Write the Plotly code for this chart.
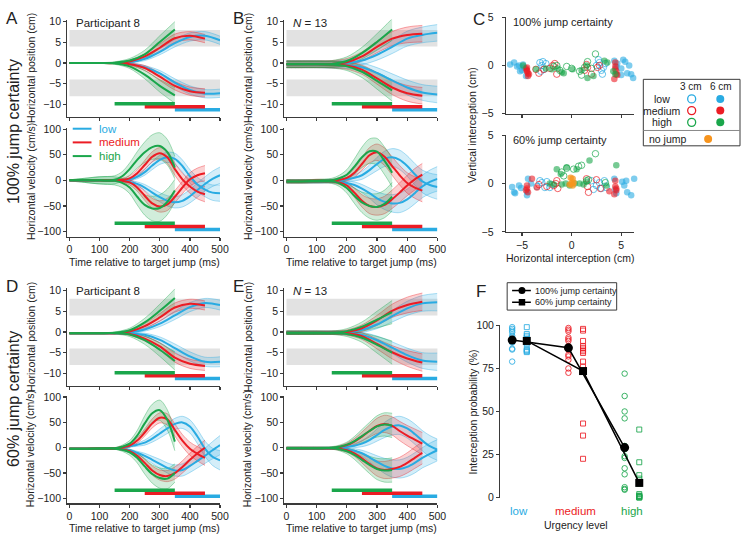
import plotly.graph_objects as go

W, H = 750, 540
FONT = "Liberation Sans, Arial, Helvetica, sans-serif"
BLUE, RED, GREEN, ORANGE = '#29abe2', '#ec1c24', '#1aa64b', '#f7941d'
AXC = '#3a3a3a'

# ---------------- data ----------------
T_POS = [0, 50, 100, 150, 200, 250, 300, 350, 400, 450, 500]
T_VEL = [0, 50, 100, 150, 175, 200, 225, 250, 275, 300, 325, 350, 375, 400, 425, 450, 475, 500]
URGENCY = ['low', 'medium', 'high']
WINDOW_START = [350, 250, 150]
WINDOW_END = [500, 450, 350]
TARGET_ZONE_LO = [4, -8]
TARGET_ZONE_HI = [8, -4]

# Panel A: participant 8, 100% certainty
A_POS_HIGH_UP = [0, 0, 0, 0.1, 0.6, 2.1, 5.1, 8.1]
A_POS_HIGH_DN = [0, 0, 0, -0.1, -0.8, -2.8, -5.5, -7.8]
A_POS_MED_UP = [0, 0, 0, 0, 0.4, 1.6, 3.7, 6.0, 6.6, 5.9]
A_POS_MED_DN = [0, 0, 0, 0, -0.3, -1.2, -3.3, -5.5, -6.8, -7.2]
A_POS_LOW_UP = [0, 0, 0, 0, 0.2, 1.0, 2.7, 4.8, 6.3, 6.6, 5.5]
A_POS_LOW_DN = [0, 0, 0, 0, -0.2, -1.0, -2.5, -4.7, -6.5, -7.4, -7.3]
A_POS_HIGH_SD = [0.1, 0.1, 0.1, 0.2, 0.5, 1.0, 1.5, 1.9]
A_POS_MED_SD = [0.1, 0.1, 0.1, 0.1, 0.3, 0.6, 0.9, 1.0, 1.0, 1.0]
A_POS_LOW_SD = [0.1, 0.1, 0.1, 0.1, 0.2, 0.4, 0.7, 0.9, 1.0, 1.0, 1.0]
A_VEL_HIGH_UP = [0, 0, 0, 1, 8, 22, 40, 55, 65, 67, 55, 25]
A_VEL_HIGH_DN = [0, 0, 0, -1, -5, -14, -32, -48, -55, -54, -42, -20]
A_VEL_MED_UP = [0, 0, 0, 0, 1, 4, 14, 30, 46, 53, 45, 22, 2, -12, -22, -27]
A_VEL_MED_DN = [0, 0, 0, 0, -1, -4, -14, -30, -45, -51, -47, -32, -14, 2, 10, 14]
A_VEL_LOW_UP = [0, 0, 0, 0, 0, 2, 7, 16, 29, 40, 45, 42, 28, 8, -8, -18, -24, -25]
A_VEL_LOW_DN = [0, 0, 0, 0, -1, -3, -7, -14, -24, -33, -40, -43, -40, -31, -19, -7, 3, 10]
A_VEL_HIGH_SD = [1, 4, 7, 8, 9, 12, 16, 20, 24, 26, 25, 22]
A_VEL_MED_SD = [1, 1, 1, 2, 3, 5, 7, 9, 10, 11, 12, 12, 12, 13, 14, 15]
A_VEL_LOW_SD = [1, 1, 1, 1, 2, 3, 4, 6, 8, 9, 10, 11, 12, 13, 14, 14, 15, 16]

# Panel B: N = 13, 100% certainty
B_POS_HIGH_UP = [-0.3, -0.3, -0.3, -0.2, 0.5, 2.4, 5.1, 8.1]
B_POS_HIGH_DN = [-0.3, -0.3, -0.3, -0.4, -0.8, -2.1, -4.3, -6.6]
B_POS_MED_UP = [-0.3, -0.3, -0.3, -0.2, 0.2, 1.6, 3.9, 5.9, 6.8, 7.1]
B_POS_MED_DN = [-0.3, -0.3, -0.3, -0.4, -0.6, -1.6, -3.7, -5.9, -7.3, -7.9]
B_POS_LOW_UP = [-0.3, -0.3, -0.3, -0.3, 0, 0.6, 2.0, 3.9, 5.9, 6.8, 7.3]
B_POS_LOW_DN = [-0.3, -0.3, -0.3, -0.4, -0.5, -1.0, -2.4, -4.2, -5.9, -7.1, -7.6]
B_POS_HIGH_SD = [0.8, 0.8, 0.8, 0.8, 1.0, 1.4, 2.0, 2.6]
B_POS_MED_SD = [0.8, 0.8, 0.8, 0.8, 0.9, 1.1, 1.4, 1.7, 1.9, 2.0]
B_POS_LOW_SD = [0.8, 0.8, 0.8, 0.8, 0.8, 1.0, 1.3, 1.6, 1.8, 1.9, 2.0]
B_VEL_HIGH_UP = [-2, -2, -1, 0, 4, 11, 27, 45, 57, 56, 38, 15]
B_VEL_HIGH_DN = [-2, -2, -2, -2, -6, -15, -30, -43, -50, -52, -46, -32]
B_VEL_MED_UP = [-2, -2, -1, -1, 1, 5, 15, 32, 49, 55, 46, 28, 10, -5, -14, -20]
B_VEL_MED_DN = [-2, -2, -2, -2, -4, -10, -24, -40, -50, -52, -48, -37, -24, -10, 2, 11]
B_VEL_LOW_UP = [-2, -2, -2, -1, 0, 2, 5, 10, 20, 32, 42, 45, 40, 28, 12, -2, -9, -13]
B_VEL_LOW_DN = [-2, -2, -2, -2, -3, -5, -9, -16, -25, -35, -42, -45, -44, -37, -25, -12, -3, 3]
B_VEL_HIGH_SD = [3, 3, 3, 4, 6, 10, 15, 20, 24, 26, 27, 28]
B_VEL_MED_SD = [3, 3, 3, 3, 4, 6, 9, 12, 15, 16, 17, 18, 19, 20, 21, 22]
B_VEL_LOW_SD = [3, 3, 3, 3, 3, 4, 6, 8, 10, 13, 15, 17, 19, 20, 21, 22, 23, 24]

# Panel D: participant 8, 60% certainty
D_POS_HIGH_UP = [-0.3, -0.3, -0.3, -0.2, 0.4, 2.3, 5.1, 8.2]
D_POS_HIGH_DN = [-0.3, -0.3, -0.3, -0.3, -0.6, -2.0, -4.3, -7.0]
D_POS_MED_UP = [-0.3, -0.3, -0.3, -0.3, 0.1, 1.4, 3.5, 5.9, 6.8, 6.4]
D_POS_MED_DN = [-0.3, -0.3, -0.3, -0.3, -0.5, -1.6, -3.5, -6.2, -7.7, -8.2]
D_POS_LOW_UP = [-0.3, -0.3, -0.3, -0.3, -0.1, 0.6, 2.0, 4.0, 6.0, 7.0, 6.5]
D_POS_LOW_DN = [-0.3, -0.3, -0.3, -0.3, -0.4, -0.7, -1.9, -3.9, -5.9, -7.2, -7.2]
D_POS_HIGH_SD = [0.1, 0.1, 0.1, 0.2, 0.5, 1.0, 1.6, 2.2]
D_POS_MED_SD = [0.1, 0.1, 0.1, 0.1, 0.3, 0.6, 0.9, 1.1, 1.1, 1.1]
D_POS_LOW_SD = [0.1, 0.1, 0.1, 0.1, 0.2, 0.4, 0.7, 1.0, 1.1, 1.1, 1.2]
D_VEL_HIGH_UP = [-2, -2, -1, -1, 2, 8, 24, 48, 68, 74, 55, 12]
D_VEL_HIGH_DN = [-2, -2, -2, -2, -4, -9, -20, -37, -52, -60, -61, -50]
D_VEL_MED_UP = [-2, -2, -1, -1, 1, 4, 14, 30, 48, 59, 56, 35, 14, -2, -12, -20]
D_VEL_MED_DN = [-2, -2, -2, -2, -3, -7, -16, -30, -45, -54, -56, -50, -38, -24, -11, 0]
D_VEL_LOW_UP = [-2, -2, -2, -1, 0, 3, 6, 10, 18, 28, 38, 47, 50, 42, 22, -2, -18, -25]
D_VEL_LOW_DN = [-2, -2, -2, -2, -3, -5, -10, -16, -24, -32, -40, -45, -44, -36, -26, -16, -5, 5]
D_VEL_HIGH_SD = [1, 1, 1, 1, 3, 6, 10, 15, 18, 20, 20, 18]
D_VEL_MED_SD = [1, 1, 1, 1, 2, 3, 5, 7, 9, 10, 11, 12, 12, 13, 14, 15]
D_VEL_LOW_SD = [1, 1, 1, 1, 1, 2, 3, 5, 7, 9, 10, 11, 12, 13, 14, 15, 17, 19]

# Panel E: N = 13, 60% certainty
E_POS_HIGH_UP = [-0.2, -0.2, -0.2, -0.2, 0.2, 1.3, 3.0, 4.8]
E_POS_HIGH_DN = [-0.2, -0.2, -0.2, -0.2, -0.5, -1.4, -3.1, -5.0]
E_POS_MED_UP = [-0.2, -0.2, -0.2, -0.2, 0, 0.9, 2.8, 5.1, 6.5, 7.3]
E_POS_MED_DN = [-0.2, -0.2, -0.2, -0.2, -0.3, -1.0, -2.9, -4.9, -6.4, -7.4]
E_POS_LOW_UP = [-0.2, -0.2, -0.2, -0.2, -0.1, 0.5, 1.8, 3.8, 5.7, 6.9, 7.2]
E_POS_LOW_DN = [-0.2, -0.2, -0.2, -0.2, -0.3, -0.7, -2.0, -3.8, -5.6, -6.9, -7.2]
E_POS_HIGH_SD = [0.4, 0.4, 0.4, 0.4, 0.6, 1.1, 2.0, 2.8]
E_POS_MED_SD = [0.4, 0.4, 0.4, 0.4, 0.5, 0.8, 1.2, 1.6, 1.9, 2.1]
E_POS_LOW_SD = [0.4, 0.4, 0.4, 0.4, 0.4, 0.6, 1.0, 1.4, 1.7, 1.9, 2.1]
E_VEL_HIGH_UP = [-1, -1, -1, 0, 2, 6, 13, 23, 33, 42, 46, 44]
E_VEL_HIGH_DN = [-1, -1, -1, -1, -3, -7, -14, -24, -34, -42, -45, -44]
E_VEL_MED_UP = [-1, -1, -1, -1, 1, 5, 12, 22, 33, 43, 47, 43, 33, 24, 16, 8]
E_VEL_MED_DN = [-1, -1, -1, -1, -2, -5, -11, -21, -32, -41, -44, -42, -38, -30, -20, -10]
E_VEL_LOW_UP = [-1, -1, -1, -1, 0, 2, 4, 8, 15, 25, 35, 42, 44, 38, 27, 14, 3, -4]
E_VEL_LOW_DN = [-1, -1, -1, -1, -2, -3, -6, -11, -19, -28, -36, -41, -42, -38, -30, -20, -12, -5]
E_VEL_HIGH_SD = [2, 2, 2, 2, 3, 5, 9, 13, 17, 21, 23, 24]
E_VEL_MED_SD = [2, 2, 2, 2, 3, 4, 6, 9, 12, 15, 17, 18, 19, 20, 21, 22]
E_VEL_LOW_SD = [2, 2, 2, 2, 2, 3, 4, 6, 9, 12, 15, 17, 18, 19, 20, 20, 21, 21]

# Panel C: interception points (cm)
C100_LOW6_X = [-6.2, -5.8, -5.5, -5.3, -5.0, -4.8, -4.6, -5.2, -4.9, 4.3, 4.6, 5.0, 5.2, 5.4, 5.6, 5.8, 6.0, 6.2, 5.0, 4.5]
C100_LOW6_Y = [0.1, 0.3, -0.1, 0.0, -0.5, -0.2, -1.1, -0.6, 0.1, 0.5, 0.2, -0.3, 0.6, 0.4, -0.8, 0.0, -0.9, -1.3, -1.0, -0.1]
C100_LOW3_X = [-3.2, -3.0, -2.8, -2.6, -3.1, -2.9, 2.5, 2.8, 3.0, 3.2, 2.7, 3.1, 3.4]
C100_LOW3_Y = [0.3, 0.0, -0.4, 0.2, -0.6, 0.4, 0.0, 0.3, -0.5, -0.2, 0.6, -0.9, 0.2]
C100_MED6_X = [-4.5, -4.5, -4.4, -4.4, -4.6, -4.3, -4.5, 4.4, 4.4, 4.5, 4.3, 4.6, 4.4, 4.5]
C100_MED6_Y = [-0.2, -0.5, -0.8, -1.1, -0.3, -0.9, -0.6, -0.1, -0.4, -0.9, -1.4, -1.0, 0.3, -0.6]
C100_MED3_X = [-3.6, -3.3, -2.8, -2.2, -1.9, -1.5, -1.7, 1.3, 1.6, 2.0, 2.6, 2.8, 1.5]
C100_MED3_Y = [-0.4, -0.8, -0.4, -0.3, 0.0, -0.9, 0.2, -0.5, -0.2, -0.9, -0.2, 0.0, 0.1]
C100_HIGH6_X = [-4.9, -3.6, -2.6, -2.0, -1.4, -1.0, -0.8, 0.1, 1.0, 1.6, 2.2, 3.3, 3.6, 4.2, 4.4, 1.5]
C100_HIGH6_Y = [0.0, -0.4, -0.3, -0.4, -0.3, -0.7, -0.8, -0.4, -0.5, -1.3, -1.1, 0.5, 0.3, -0.6, -0.9, 0.0]
C100_HIGH3_X = [-1.5, -1.2, -0.5, 0.0, -1.8, 0.8, 1.3, 1.6, 2.4, 2.0, 1.0]
C100_HIGH3_Y = [0.0, -0.5, -0.1, -0.3, -0.1, -0.6, -0.2, 0.4, 1.2, -0.3, -1.0]

C60_LOW6_X = [-6.0, -5.7, -5.3, -5.1, -4.5, -4.5, -4.4, -4.1, -5.8, 4.3, 4.5, 5.1, 5.3, 5.5, 6.0, 6.3, 5.6, 4.4]
C60_LOW6_Y = [-0.35, -1.0, -0.2, -0.45, -0.85, -1.2, 0.5, 0.0, -0.9, 0.5, -1.0, 0.2, -0.2, 0.3, -1.2, 0.5, -0.9, -0.6]
C60_LOW3_X = [-3.5, -3.0, -2.7, -2.5, -2.2, -2.0, -3.2, 2.0, 2.5, 2.8, 3.0, 3.3, 3.5, 2.2]
C60_LOW3_Y = [-0.3, 0.1, -0.4, 0.2, -0.4, -0.1, 0.3, 0.3, -0.2, 0.1, -0.5, 0.3, -0.4, -0.6]
C60_MED6_X = [-4.5, -4.5, -4.4, -4.6, -4.0, -3.5, 4.4, 4.4, 4.5, 4.3, 3.8, 4.5]
C60_MED6_Y = [-0.2, -0.5, -0.9, -0.7, 0.5, -0.4, 0.3, -0.3, -0.7, -1.1, -0.8, -0.5]
C60_MED3_X = [-3.3, -2.5, -1.8, -1.5, -1.4, 1.5, 1.6, 1.7, 2.5, 2.9, -1.6]
C60_MED3_Y = [-0.1, -0.3, -0.2, 0.3, -0.5, 0.5, -0.3, -0.9, 0.4, -0.5, 0.0]
C60_HIGH6_X = [-1.5, -1.1, -0.5, 0.5, 1.8, 4.5, -2.2, -1.8, -1.0, -0.6, -0.2, 0.3, 0.8, 1.2, 3.5, 1.5]
C60_HIGH6_Y = [1.5, 1.0, 1.7, 1.5, 2.4, 1.9, 0.0, -0.1, -0.1, 0.0, -0.2, 0.0, 0.0, -0.1, -0.2, 0.2]
C60_HIGH3_X = [-1.0, -0.5, 0.2, 0.7, 1.0, 1.5, 2.4, 3.4, -0.8, 1.7]
C60_HIGH3_Y = [1.2, 1.6, 1.5, 1.8, 1.9, 0.3, 3.1, 0.1, 0.8, 0.4]
C60_NOJUMP_X = [-0.1, 0.1, 0.0, 0.1, -0.2, 0.2]
C60_NOJUMP_Y = [0.6, 0.5, 0.0, -0.2, -0.1, 0.1]

# Panel F: interception probability (%)
F100_LOW = [99, 98, 97, 96, 94, 93, 92, 91, 90.5, 90, 86.5, 86, 79]
F60_LOW = [99, 95, 94, 93, 92, 91, 90.5, 90, 89, 86, 85.5, 85, 84.5]
F100_MED = [98.5, 97.5, 96.5, 93, 92, 91, 88, 86, 83, 82, 80, 75, 72.5]
F60_MED = [98, 97, 91, 88, 87, 86, 85, 84, 79, 76, 43, 36, 22.5]
F100_HIGH = [72, 59, 50, 46, 30, 28, 24, 23, 17, 13.5, 6, 5, 4.5]
F60_HIGH = [39.5, 20.5, 13, 11, 9, 8, 2, 1, 0.5, 0, 0, 0.5, 1]
F100_MEAN = [91.5, 87, 29]
F60_MEAN = [91, 73.5, 8.5]
F_SERIES = ['100% jump certainty', '60% jump certainty']

# ---------------- helpers ----------------
def rgba(hexc, a):
    h = hexc.lstrip('#')
    return 'rgba(%d,%d,%d,%.3f)' % (int(h[0:2], 16), int(h[2:4], 16), int(h[4:6], 16), a)

COLORS = {'low': BLUE, 'medium': RED, 'high': GREEN}
traces, shapes, annotations = [], [], []
layout_axes = {}
ax_count = [0]
TICKFONT = dict(size=10.5, color='#222', family=FONT)
TITLE_SIZE = 10.5


def axstyle(**kw):
    d = dict(showline=True, linecolor=AXC, linewidth=1.2, ticks='outside', ticklen=3,
             tickwidth=1.2, tickcolor=AXC, showgrid=False, zeroline=False,
             tickfont=TICKFONT, fixedrange=True)
    d.update(kw)
    return d


def new_axes(xpx, ypx, xrange, yrange, xkw=None, ykw=None):
    ax_count[0] += 1
    i = ax_count[0]
    xn = 'x' if i == 1 else 'x%d' % i
    yn = 'y' if i == 1 else 'y%d' % i
    xk = axstyle(domain=[xpx[0] / W, xpx[1] / W], range=xrange, anchor=yn)
    xk.update(xkw or {})
    yk = axstyle(domain=[1 - ypx[1] / H, 1 - ypx[0] / H], range=yrange, anchor=xn)
    yk.update(ykw or {})
    layout_axes['xaxis' if i == 1 else 'xaxis%d' % i] = xk
    layout_axes['yaxis' if i == 1 else 'yaxis%d' % i] = yk
    return xn, yn


def ann(x, y, text, size=TITLE_SIZE, color='#222', xanchor='center', angle=0, xref='paper', yref='paper'):
    if xref == 'paper':
        x = x / W
    if yref == 'paper':
        y = 1 - y / H
    annotations.append(dict(x=x, y=y, xref=xref, yref=yref, text=text, showarrow=False,
                            xanchor=xanchor, yanchor='middle', textangle=angle, borderpad=0,
                            font=dict(size=size, color=color, family=FONT)))


def add_curves(xn, yn, t, curves):
    for urg, up, dn, sd in curves:
        col = COLORS[urg]
        for mean in (up, dn):
            n = len(mean)
            tt = t[:n]
            lo = [m - s for m, s in zip(mean, sd)]
            hi = [m + s for m, s in zip(mean, sd)]
            traces.append(go.Scatter(x=tt, y=lo, xaxis=xn, yaxis=yn, mode='lines',
                                     line=dict(color=rgba(col, 0.55), width=0.7, shape='spline', smoothing=0.9),
                                     hoverinfo='skip', showlegend=False))
            traces.append(go.Scatter(x=tt, y=hi, xaxis=xn, yaxis=yn, mode='lines', fill='tonexty',
                                     fillcolor=rgba(col, 0.2),
                                     line=dict(color=rgba(col, 0.55), width=0.7, shape='spline', smoothing=0.9),
                                     hoverinfo='skip', showlegend=False))
    for urg, up, dn, sd in curves:
        col = COLORS[urg]
        for mean in (up, dn):
            traces.append(go.Scatter(x=t[:len(mean)], y=mean, xaxis=xn, yaxis=yn, mode='lines',
                                     line=dict(color=col, width=2, shape='spline', smoothing=0.9),
                                     hoverinfo='skip', showlegend=False))


def add_windows(xn, yn, levels):
    for urg, s, e, lev in zip(URGENCY, WINDOW_START, WINDOW_END, levels):
        shapes.append(dict(type='line', xref=xn, yref=yn, x0=s, x1=e, y0=lev, y1=lev,
                           line=dict(color=COLORS[urg], width=3.5)))


POS_BAR_LEVELS = [-11.25, -10.55, -9.85]
VEL_BAR_LEVELS = [-96, -90, -84]

PANELS = [
    dict(x=(67.2, 222), ypos=(13.9, 113.4), yvel=(124.4, 235.9), note='Participant 8',
         pos=[('low', A_POS_LOW_UP, A_POS_LOW_DN, A_POS_LOW_SD), ('medium', A_POS_MED_UP, A_POS_MED_DN, A_POS_MED_SD),
              ('high', A_POS_HIGH_UP, A_POS_HIGH_DN, A_POS_HIGH_SD)],
         vel=[('low', A_VEL_LOW_UP, A_VEL_LOW_DN, A_VEL_LOW_SD), ('medium', A_VEL_MED_UP, A_VEL_MED_DN, A_VEL_MED_SD),
              ('high', A_VEL_HIGH_UP, A_VEL_HIGH_DN, A_VEL_HIGH_SD)]),
    dict(x=(287.2, 442.3), ypos=(13.9, 113.4), yvel=(124.4, 235.9), note='<i>N</i> = 13',
         pos=[('low', B_POS_LOW_UP, B_POS_LOW_DN, B_POS_LOW_SD), ('medium', B_POS_MED_UP, B_POS_MED_DN, B_POS_MED_SD),
              ('high', B_POS_HIGH_UP, B_POS_HIGH_DN, B_POS_HIGH_SD)],
         vel=[('low', B_VEL_LOW_UP, B_VEL_LOW_DN, B_VEL_LOW_SD), ('medium', B_VEL_MED_UP, B_VEL_MED_DN, B_VEL_MED_SD),
              ('high', B_VEL_HIGH_UP, B_VEL_HIGH_DN, B_VEL_HIGH_SD)]),
    dict(x=(67.2, 222), ypos=(288.9, 388.4), yvel=(398.4, 508.7), note='Participant 8',
         pos=[('low', D_POS_LOW_UP, D_POS_LOW_DN, D_POS_LOW_SD), ('medium', D_POS_MED_UP, D_POS_MED_DN, D_POS_MED_SD),
              ('high', D_POS_HIGH_UP, D_POS_HIGH_DN, D_POS_HIGH_SD)],
         vel=[('low', D_VEL_LOW_UP, D_VEL_LOW_DN, D_VEL_LOW_SD), ('medium', D_VEL_MED_UP, D_VEL_MED_DN, D_VEL_MED_SD),
              ('high', D_VEL_HIGH_UP, D_VEL_HIGH_DN, D_VEL_HIGH_SD)]),
    dict(x=(287.2, 442.3), ypos=(288.9, 388.4), yvel=(398.4, 508.7), note='<i>N</i> = 13',
         pos=[('low', E_POS_LOW_UP, E_POS_LOW_DN, E_POS_LOW_SD), ('medium', E_POS_MED_UP, E_POS_MED_DN, E_POS_MED_SD),
              ('high', E_POS_HIGH_UP, E_POS_HIGH_DN, E_POS_HIGH_SD)],
         vel=[('low', E_VEL_LOW_UP, E_VEL_LOW_DN, E_VEL_LOW_SD), ('medium', E_VEL_MED_UP, E_VEL_MED_DN, E_VEL_MED_SD),
              ('high', E_VEL_HIGH_UP, E_VEL_HIGH_DN, E_VEL_HIGH_SD)]),
]

XT = dict(tickvals=[0, 100, 200, 300, 400, 500])
for P in PANELS:
    # position
    xn, yn = new_axes(P['x'], P['ypos'], [-7, 500], [-13, 10.5],
                      xkw=dict(XT, showticklabels=False), ykw=dict(tickvals=[-10, -5, 0, 5, 10]))
    for lo, hi in zip(TARGET_ZONE_LO, TARGET_ZONE_HI):
        shapes.append(dict(type='rect', xref=xn, yref=yn, x0=0, x1=502, y0=lo, y1=hi,
                           fillcolor='#e2e2e2', line=dict(width=0), layer='below'))
    add_curves(xn, yn, T_POS, P['pos'])
    add_windows(xn, yn, POS_BAR_LEVELS)
    ann(P['x'][0] + 8, P['ypos'][0] + 3, P['note'], size=11.5, xanchor='left')
    cx = (P['x'][0] + P['x'][1]) / 2
    ann(P['x'][0] - 37, (P['ypos'][0] + P['ypos'][1]) / 2, 'Horizontal position (cm)', angle=-90)
    # velocity
    xn, yn = new_axes(P['x'], P['yvel'], [-7, 500], [-110, 103],
                      xkw=dict(XT), ykw=dict(tickvals=[-100, -50, 0, 50, 100]))
    add_curves(xn, yn, T_VEL, P['vel'])
    add_windows(xn, yn, VEL_BAR_LEVELS)
    ann(P['x'][0] - 37, (P['yvel'][0] + P['yvel'][1]) / 2 - 1, 'Horizontal velocity (cm/s)', angle=-90)
    ann(cx + 1, min(P['yvel'][1] + 26, 533.5), 'Time relative to target jump (ms)')

# legend inside panel A velocity
for urg, yy in zip(URGENCY, [125.5, 139.5, 153.5]):
    shapes.append(dict(type='line', xref='paper', yref='paper', x0=72.7 / W, x1=91.7 / W,
                       y0=1 - yy / H, y1=1 - yy / H, line=dict(color=COLORS[urg], width=2)))
    ann(98, yy, urg, size=11.5, color=COLORS[urg], xanchor='left')

# ---------------- panel C ----------------
C_GROUPS_TOP = [('low', C100_LOW3_X, C100_LOW3_Y, False), ('medium', C100_MED3_X, C100_MED3_Y, False),
                ('high', C100_HIGH3_X, C100_HIGH3_Y, False), ('low', C100_LOW6_X, C100_LOW6_Y, True),
                ('medium', C100_MED6_X, C100_MED6_Y, True), ('high', C100_HIGH6_X, C100_HIGH6_Y, True)]
C_GROUPS_BOT = [('low', C60_LOW3_X, C60_LOW3_Y, False), ('medium', C60_MED3_X, C60_MED3_Y, False),
                ('high', C60_HIGH3_X, C60_HIGH3_Y, False), ('low', C60_LOW6_X, C60_LOW6_Y, True),
                ('medium', C60_MED6_X, C60_MED6_Y, True), ('high', C60_HIGH6_X, C60_HIGH6_Y, True)]

for groups, ypx, showx, title in [(C_GROUPS_TOP, (11.7, 110), False, '100% jump certainty'),
                                  (C_GROUPS_BOT, (132.3, 231), True, '60% jump certainty')]:
    xn, yn = new_axes((511.7, 641.7), ypx, [-6.63, 6.3], [-5, 5],
                      xkw=dict(tickvals=[-5, 0, 5], showticklabels=showx),
                      ykw=dict(tickvals=[-5, 0, 5], ticklabelstandoff=6))
    for urg, xs, ys, filled in groups:
        col = COLORS[urg]
        if filled:
            mk = dict(symbol='circle', size=6.5, color=rgba(col, 0.6), line=dict(width=0))
        else:
            mk = dict(symbol='circle-open', size=6.5, color=rgba(col, 0.7), line=dict(width=1))
        traces.append(go.Scatter(x=xs, y=ys, xaxis=xn, yaxis=yn, mode='markers', marker=mk,
                                 cliponaxis=False, hoverinfo='skip', showlegend=False))
    if showx:
        traces.append(go.Scatter(x=C60_NOJUMP_X, y=C60_NOJUMP_Y, xaxis=xn, yaxis=yn, mode='markers',
                                 marker=dict(symbol='circle', size=6.5, color=rgba(ORANGE, 0.75)),
                                 cliponaxis=False, hoverinfo='skip', showlegend=False))
    ann(518, ypx[0] + 5, title, size=11, xanchor='left')

ann(478, 122, 'Vertical interception (cm)', angle=-90)
ann(577, 258, 'Horizontal interception (cm)')

# helper axis spanning the whole figure in pixel units, for legend keys
hx, hy = new_axes((0, W), (0, H), [0, W], [H, 0], xkw=dict(visible=False), ykw=dict(visible=False))

# legend for panel C
shapes.append(dict(type='rect', xref='paper', yref='paper', x0=651 / W, x1=749 / W, y0=1 - 143 / H,
                   y1=1 - 75 / H, line=dict(color=AXC, width=1), fillcolor='rgba(0,0,0,0)'))
shapes.append(dict(type='line', xref='paper', yref='paper', x0=651 / W, x1=749 / W, y0=1 - 127.3 / H,
                   y1=1 - 127.3 / H, line=dict(color='#888', width=1)))
ann(699, 82, '3 cm', size=10)
ann(730, 82, '6 cm', size=10)
for urg, yy in zip(URGENCY, [95, 107, 119]):
    ann(670, yy, urg, size=10.5)
    traces.append(go.Scatter(x=[700], y=[yy], xaxis=hx, yaxis=hy, mode='markers',
                             marker=dict(symbol='circle-open', size=8, color=COLORS[urg], line=dict(width=1.3)),
                             hoverinfo='skip', showlegend=False))
    traces.append(go.Scatter(x=[729], y=[yy], xaxis=hx, yaxis=hy, mode='markers',
                             marker=dict(symbol='circle', size=8, color=COLORS[urg]),
                             hoverinfo='skip', showlegend=False))
ann(656, 136, 'no jump', size=10.5, xanchor='left')
traces.append(go.Scatter(x=[716.7], y=[136], xaxis=hx, yaxis=hy, mode='markers',
                         marker=dict(symbol='circle', size=8, color=ORANGE), hoverinfo='skip', showlegend=False))

# ---------------- panel F ----------------
fx, fy = new_axes((506, 660), (326.7, 502.7), [0.658, 3.36], [0, 100],
                  xkw=dict(showline=False, ticks='', showticklabels=False),
                  ykw=dict(tickvals=[0, 25, 50, 75, 100]))
OFF = 0.13
for k, (urg, v100, v60) in enumerate(zip(URGENCY, [F100_LOW, F100_MED, F100_HIGH], [F60_LOW, F60_MED, F60_HIGH])):
    col = COLORS[urg]
    traces.append(go.Scatter(x=[k + 1 - OFF] * len(v100), y=v100, xaxis=fx, yaxis=fy, mode='markers',
                             marker=dict(symbol='circle-open', size=5.5, color=rgba(col, 0.85), line=dict(width=1)),
                             cliponaxis=False, hoverinfo='skip', showlegend=False))
    traces.append(go.Scatter(x=[k + 1 + OFF] * len(v60), y=v60, xaxis=fx, yaxis=fy, mode='markers',
                             marker=dict(symbol='square-open', size=5, color=rgba(col, 0.85), line=dict(width=1)),
                             cliponaxis=False, hoverinfo='skip', showlegend=False))
    ann(k + 1, 516, urg, size=11.5, color=col, xref=fx, yref='paper')
F_SYMBOLS = ['circle', 'square']
F_SIZES = [9, 8]
for name, means, sgn, sym, sz in zip(F_SERIES, [F100_MEAN, F60_MEAN], [-1, 1], F_SYMBOLS, F_SIZES):
    traces.append(go.Scatter(x=[i + 1 + sgn * OFF for i in range(3)], y=means, xaxis=fx, yaxis=fy,
                             mode='lines+markers', name=name, line=dict(color='black', width=1.5),
                             marker=dict(symbol=sym, size=sz, color='black'), cliponaxis=False,
                             hoverinfo='skip', showlegend=False))
ann(478, 415, 'Interception probability (%)', angle=-90)
ann(583, 531, 'Urgency level')

# manual legend for panel F
shapes.append(dict(type='rect', xref='paper', yref='paper', x0=513 / W, x1=624 / W, y0=1 - 311 / H,
                   y1=1 - 283 / H, line=dict(color=AXC, width=1), fillcolor='white', layer='below'))
for name, sym, sz, yy in zip(F_SERIES, F_SYMBOLS, [7, 6.5], [291, 303]):
    shapes.append(dict(type='line', xref='paper', yref='paper', x0=518 / W, x1=537 / W,
                       y0=1 - yy / H, y1=1 - yy / H, line=dict(color='black', width=1.5)))
    traces.append(go.Scatter(x=[528], y=[yy], xaxis=hx, yaxis=hy, mode='markers',
                             marker=dict(symbol=sym, size=sz, color='black'), hoverinfo='skip', showlegend=False))
    ann(540, yy, name, size=9, xanchor='left')

# ---------------- labels ----------------
for letter, x, y in [('A', 11, 13), ('B', 241, 13), ('C', 484, 14), ('D', 11, 287), ('E', 241, 287), ('F', 486, 292)]:
    ann(x, y, letter, size=17)
ann(12, 128, '100% jump certainty', size=16, angle=-90)
ann(12, 402, '60% jump certainty', size=16, angle=-90)

fig = go.Figure(data=traces)
fig.update_layout(
    width=W, height=H, margin=dict(l=0, r=0, t=0, b=0),
    paper_bgcolor='white', plot_bgcolor='rgba(0,0,0,0)',
    font=dict(family=FONT, size=11, color='#222'),
    shapes=shapes, annotations=annotations, hovermode=False,
    showlegend=False,
    **layout_axes,
)
fig.write_html("out.html", config={'displayModeBar': False, 'staticPlot': True},
               post_script="document.body.style.margin='0';")
